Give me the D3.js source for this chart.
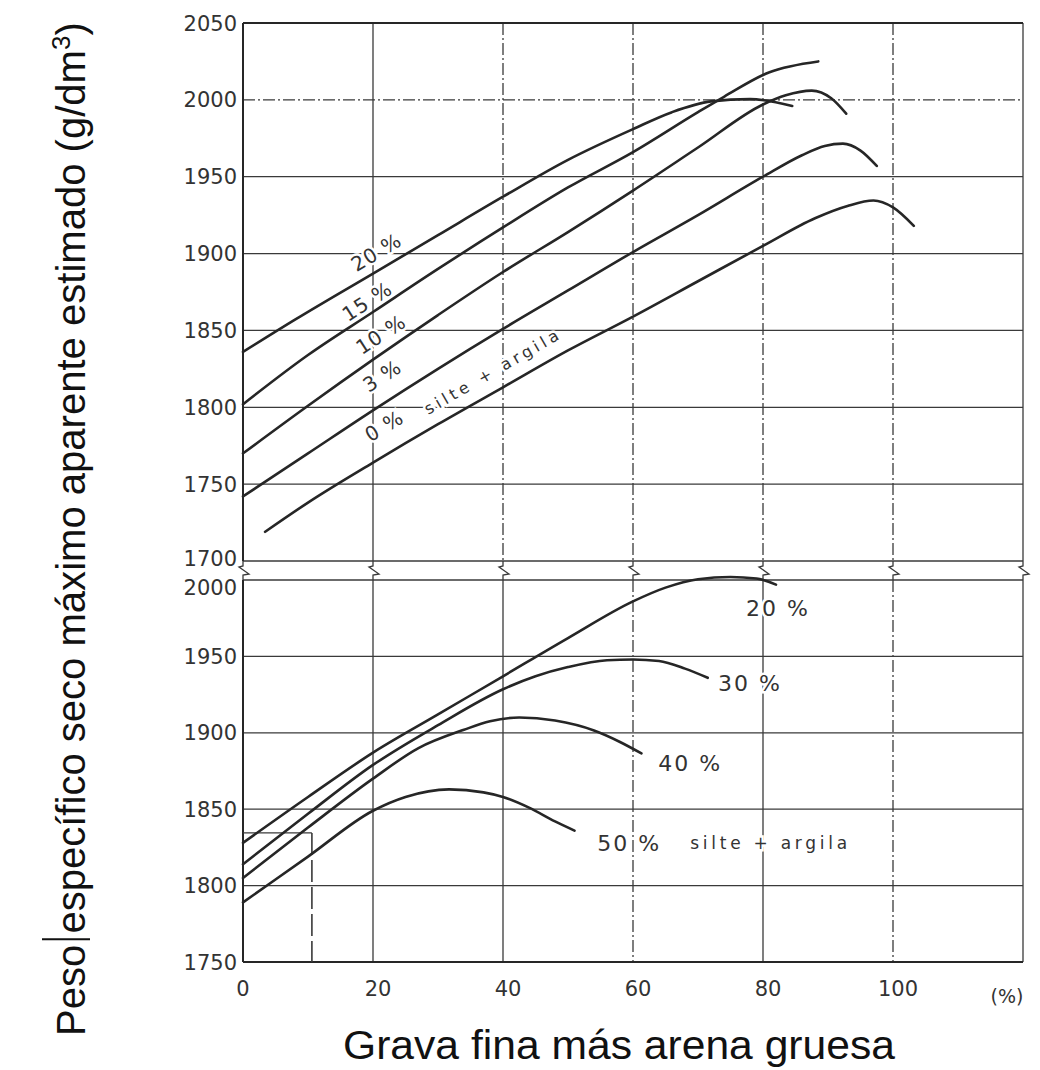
<!DOCTYPE html>
<html>
<head>
<meta charset="utf-8">
<script src="https://cdn.jsdelivr.net/npm/d3@7"></script>
<style>
  body { margin: 0; background: #fff; }
</style>
</head>
<body>
<svg id="chart" width="1040" height="1070"></svg>
<script>
// ---- data ----
const xTicks = [0, 20, 40, 60, 80, 100];
const topTicks = [2050, 2000, 1950, 1900, 1850, 1800, 1750, 1700];
const botTicks = [2000, 1950, 1900, 1850, 1800, 1750];

// upper panel: % silte + argila 0..20
const top20 = [[0,1836],[8,1857],[20,1887],[30,1912],[40,1937],[50,1961],[60,1981],[66,1992],[72,1999],[78,2000.5],[84.5,1996]];
const top15 = [[0,1802],[10,1834],[20,1862],[30,1890],[40,1917],[50,1943],[60,1966],[70,1992],[74,2002],[81,2018],[88.5,2025]];
const top10 = [[0,1770],[10,1801],[20,1831],[30,1860],[40,1888],[50,1914],[60,1941],[70,1969],[80,1997],[83.5,2003],[87.5,2006],[90.5,2001],[92.8,1991]];
const top3  = [[0,1742],[10,1770],[20,1798],[30,1825],[40,1851],[50,1876],[60,1901],[70,1925],[80,1950],[86,1964],[89.5,1970],[92.3,1971.5],[95,1967],[97.5,1957]];
const top0  = [[3.4,1719],[10,1738],[20,1764],[30,1789],[40,1813],[50,1837],[60,1859],[70,1882],[80,1905],[88,1923],[93,1931],[97,1934.5],[100,1930],[103.2,1918]];

// lower panel: % silte + argila 20..50
const bot20 = [[0,1828],[10,1858],[20,1887],[30,1912],[40,1937],[50,1962],[60,1986],[65,1995],[70,2000.5],[75,2002],[79,2001],[82,1997]];
const bot30 = [[0,1814],[10,1847],[20,1879],[30,1905],[40,1928.5],[45,1937],[50,1943],[56,1947.5],[60,1948],[64,1947],[68,1942],[71.5,1936]];
const bot40 = [[0,1805],[10,1838],[20,1870],[27,1890],[34,1902],[38,1907.5],[42.5,1910],[48,1908],[54,1901.5],[58,1894],[61.3,1886.5]];
const bot50 = [[0,1789],[10,1819],[20,1849],[25,1858],[31.7,1863],[37,1861],[40,1858],[44,1851],[48,1842],[51,1836]];

// curve labels (data coordinates)
const topLabels = [
  { text: '20 %', x: 20.5, y: 1901, angle: -31 },
  { text: '15 %', x: 19.1, y: 1869, angle: -33 },
  { text: '10 %', x: 21.2, y: 1847.5, angle: -33 },
  { text: '3 %',  x: 21.4, y: 1820.5, angle: -33 },
  { text: '0 %',  x: 21.7, y: 1788, angle: -31 }
];
const botLabels = [
  { text: '20 %', x: 82.3, y: 1981.5 },
  { text: '30 %', x: 78,   y: 1932.5 },
  { text: '40 %', x: 68.8, y: 1880 },
  { text: '50 %', x: 59.4, y: 1828 }
];
const refPoint = [10.6, 1834.5];   // dashed reading line, lower panel

// ---- layout ----
const svg = d3.select('#chart');
const ink = '#262626';
const gridInk = '#3a3a3a';
const dashDot = '12,3,2,3';
const tickFont = '"DejaVu Sans", sans-serif';

const xScale = d3.scaleLinear().domain([0, 120]).range([243, 1023]);
const yTop = d3.scaleLinear().domain([1700, 2050]).range([561, 23]);
const yBot = d3.scaleLinear().domain([1750, 2000]).range([962, 580]);

const grid = svg.append('g');

// horizontal grid lines
function hLines(scale, ticks, dashed) {
  grid.selectAll(null)
    .data(ticks)
    .join('line')
    .attr('x1', xScale(0)).attr('x2', xScale(120))
    .attr('y1', d => scale(d)).attr('y2', d => scale(d))
    .attr('stroke', gridInk)
    .attr('stroke-width', 1.3)
    .attr('stroke-dasharray', d => dashed.includes(d) ? dashDot : null);
}
hLines(yTop, topTicks.slice(1), [2000]);
hLines(yBot, botTicks.slice(0, -1), []);

// vertical grid lines
function vLines(scale, d0, d1, ticks, dashed) {
  grid.selectAll(null)
    .data(ticks)
    .join('line')
    .attr('x1', d => xScale(d)).attr('x2', d => xScale(d))
    .attr('y1', scale(d1)).attr('y2', scale(d0))
    .attr('stroke', gridInk)
    .attr('stroke-width', 1.3)
    .attr('stroke-dasharray', d => dashed.includes(d) ? dashDot : null);
}
vLines(yTop, 1700, 2050, [20, 40, 60, 80, 100, 120], [40, 60, 80, 100]);
vLines(yBot, 1750, 2000, [20, 40, 60, 80, 100, 120], [60, 100]);

// frame: top and left borders heavier
grid.append('line')
  .attr('x1', xScale(0)).attr('x2', xScale(120))
  .attr('y1', yTop(2050)).attr('y2', yTop(2050))
  .attr('stroke', ink).attr('stroke-width', 2.2);
grid.append('line')
  .attr('x1', xScale(0)).attr('x2', xScale(120))
  .attr('y1', yBot(1750)).attr('y2', yBot(1750))
  .attr('stroke', ink).attr('stroke-width', 2.2);
grid.append('line')
  .attr('x1', xScale(0)).attr('x2', xScale(0))
  .attr('y1', yTop(2050)).attr('y2', yTop(1700))
  .attr('stroke', ink).attr('stroke-width', 2);
grid.append('line')
  .attr('x1', xScale(0)).attr('x2', xScale(0))
  .attr('y1', yBot(2000)).attr('y2', yBot(1750))
  .attr('stroke', ink).attr('stroke-width', 2);

// axis break marks between the panels
grid.selectAll(null)
  .data([0, 20, 40, 60, 80, 100, 120])
  .join('path')
  .attr('d', d => {
    const X = xScale(d), a = yTop(1700), b = yBot(2000);
    return `M${X},${a} V${a + 5} L${X - 4},${a + 6} L${X + 6},${a + 13} L${X},${a + 14} V${b}`;
  })
  .attr('fill', 'none')
  .attr('stroke', gridInk)
  .attr('stroke-width', 1.3);

// dashed reading line in lower panel
grid.append('line')
  .attr('x1', xScale(0)).attr('x2', xScale(refPoint[0]))
  .attr('y1', yBot(refPoint[1])).attr('y2', yBot(refPoint[1]))
  .attr('stroke', gridInk).attr('stroke-width', 1.3);
grid.append('line')
  .attr('x1', xScale(refPoint[0])).attr('x2', xScale(refPoint[0]))
  .attr('y1', yBot(refPoint[1])).attr('y2', yBot(1750))
  .attr('stroke', gridInk).attr('stroke-width', 1.6)
  .attr('stroke-dasharray', '22,5');

// ---- tick labels ----
const ticks = svg.append('g')
  .style('font-family', tickFont).style('font-size', '21px').style('fill', '#333');

ticks.selectAll(null)
  .data(topTicks)
  .join('text')
  .attr('x', 237)
  .attr('y', d => yTop(d) + (d === 1700 ? -3 : 0))
  .attr('dy', '0.36em')
  .attr('text-anchor', 'end')
  .text(d => d);

ticks.selectAll(null)
  .data(botTicks)
  .join('text')
  .attr('x', 237)
  .attr('y', d => yBot(d) + (d === 2000 ? 7 : 0))
  .attr('dy', '0.36em')
  .attr('text-anchor', 'end')
  .text(d => d);

ticks.selectAll(null)
  .data(xTicks)
  .join('text')
  .attr('x', d => xScale(d) + (d === 0 ? 0 : 5))
  .attr('y', 996)
  .attr('text-anchor', 'middle')
  .text(d => d);

ticks.append('text')
  .attr('x', 1007).attr('y', 1003)
  .attr('text-anchor', 'middle')
  .style('font-size', '19px')
  .text('(%)');

// ---- curve labels ----
const labels = svg.append('g')
  .style('font-family', tickFont).style('fill', '#333')
  .attr('stroke', '#fff').attr('stroke-width', 5)
  .style('paint-order', 'stroke');

labels.selectAll(null)
  .data(topLabels)
  .join('text')
  .attr('transform', d => `translate(${xScale(d.x)},${yTop(d.y)}) rotate(${d.angle})`)
  .attr('text-anchor', 'middle')
  .attr('dy', '0.36em')
  .style('font-size', '20px')
  .style('letter-spacing', '1px')
  .text(d => d.text);

labels.append('text')
  .attr('transform', `translate(${xScale(38.2)},${yTop(1823)}) rotate(-30)`)
  .attr('text-anchor', 'middle')
  .attr('dy', '0.36em')
  .attr('textLength', 152)
  .attr('lengthAdjust', 'spacing')
  .style('font-size', '16px')
  .text('silte + argila');

labels.selectAll(null)
  .data(botLabels)
  .join('text')
  .attr('x', d => xScale(d.x))
  .attr('y', d => yBot(d.y))
  .attr('dy', '0.36em')
  .attr('text-anchor', 'middle')
  .style('font-size', '22px')
  .style('letter-spacing', '2px')
  .text(d => d.text);

labels.append('text')
  .attr('x', xScale(68.8)).attr('y', yBot(1828))
  .attr('dy', '0.36em')
  .attr('textLength', 157)
  .attr('lengthAdjust', 'spacing')
  .style('font-size', '17px')
  .text('silte + argila');

// ---- curves ----
const topLine = d3.line().x(d => xScale(d[0])).y(d => yTop(d[1])).curve(d3.curveMonotoneX);
const botLine = d3.line().x(d => xScale(d[0])).y(d => yBot(d[1])).curve(d3.curveMonotoneX);

svg.append('g')
  .selectAll('path')
  .data([top20, top15, top10, top3, top0])
  .join('path')
  .attr('d', topLine)
  .attr('fill', 'none')
  .attr('stroke', ink)
  .attr('stroke-width', 2.6)
  .attr('stroke-linecap', 'round');

svg.append('g')
  .selectAll('path')
  .data([bot20, bot30, bot40, bot50])
  .join('path')
  .attr('d', botLine)
  .attr('fill', 'none')
  .attr('stroke', ink)
  .attr('stroke-width', 2.6)
  .attr('stroke-linecap', 'round');

// ---- axis titles ----
const titleFont = '"Liberation Sans", Arial, sans-serif';

const yTitle = svg.append('text')
  .style('font-family', titleFont).style('font-size', '40px').style('fill', '#111');
yTitle.append('tspan').text('Peso específico seco máximo aparente estimado (g/dm');
yTitle.append('tspan').attr('dy', -15).style('font-size', '26px').text('3');
yTitle.append('tspan').attr('dy', 15).text(')');

const yLen = yTitle.node().getComputedTextLength();
const ySx = (1036 - 22) / yLen;
yTitle.attr('transform', `translate(85,1036) rotate(-90) scale(${ySx},1)`);

// bar drawn between "Peso" and "específico"
const pesoW = yTitle.node().getSubStringLength(0, 4);
const spaceW = yTitle.node().getSubStringLength(4, 1);
const barAt = (pesoW + spaceW * 0.5) * ySx;
svg.append('line')
  .attr('x1', 85 - 43).attr('x2', 85 + 5)
  .attr('y1', 1036 - barAt).attr('y2', 1036 - barAt)
  .attr('stroke', '#111').attr('stroke-width', 2);

const xTitle = svg.append('text')
  .attr('x', 0).attr('y', 0)
  .style('font-family', titleFont).style('font-size', '40px').style('fill', '#111')
  .text('Grava fina más arena gruesa');
const xLen = xTitle.node().getComputedTextLength();
xTitle.attr('transform', `translate(343,1059) scale(${552 / xLen},1)`);
</script>
</body>
</html>
